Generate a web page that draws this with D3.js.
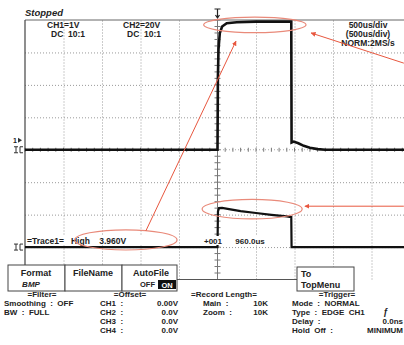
<!DOCTYPE html>
<html>
<head>
<meta charset="utf-8">
<script src="https://d3js.org/d3.v7.min.js"></script>
<style>
  body { margin: 0; background: #fff; }
  svg text { font-family: "Liberation Sans", Arial, sans-serif; font-weight: bold; fill: #222; }
</style>
</head>
<body>
<svg id="chart" width="404" height="345"></svg>
<script>
// CH1 (1 V/div), time in us and volts
const ch1Time = [-2500, 0, 5, 13, 30, 60, 120, 250, 500, 700, 958, 962, 990, 1050, 1120, 1200, 1300, 1400, 2500];
const ch1Volt = [0, 0, 2.2, 3.1, 3.6, 3.8, 3.9, 3.93, 3.95, 3.95, 3.95, 0.22, 0.25, 0.2, 0.12, 0.06, 0.02, 0, 0];
// CH2 (20 V/div, ground 3 div below centre)
const ch2Time = [-2500, 0, 6, 20, 60, 150, 300, 500, 700, 900, 958, 962, 2500];
const ch2Volt = [0, 0, 22, 24, 24.2, 23.4, 22.2, 21, 19.9, 18.9, 18.5, 0, 0];

const xDivs = d3.range(-5, 6);     // 10 horizontal divisions
const yDivs = d3.range(-4, 5);     // 8 vertical divisions

const headerLeft = [["CH1=1V", "DC  10:1"], ["CH2=20V", "DC  10:1"]];
const headerRight = ["500us/div", "(500us/div)", "NORM:2MS/s"];
const filterRows = [["Smoothing  :  OFF"], ["BW  :  FULL"]];
const offsetRows = [["CH1  :", "0.00V"], ["CH2  :", "0.0V"], ["CH3  :", "0.0V"], ["CH4  :", "0.0V"]];
const recordRows = [["Main  :", "10K"], ["Zoom  :", "10K"]];
const triggerRows = [["Mode  :  NORMAL", ""], ["Type  :  EDGE  CH1", ""], ["Delay  :", "0.0ns"], ["Hold  Off  :", "MINIMUM"]];

const svg = d3.select("#chart");

// screen scales (divisions)
const x = d3.scaleLinear().domain([-5, 5]).range([25, 410]);
const y = d3.scaleLinear().domain([-4, 4]).range([279.5, 20]);
const t = d3.scaleLinear().domain([-2500, 2500]).range([25, 410]);
const ch1 = v => y(v / 1);
const ch2 = v => y(v / 20 - 3);

// grid
const grid = svg.append("g");
grid.append("g")
  .attr("transform", `translate(0,${y(-4)})`)
  .call(d3.axisTop(x).tickValues(xDivs.filter(d => d > -5 && d !== 0)).tickSize(y(-4) - y(4)).tickFormat(""))
  .call(g => g.select(".domain").remove())
  .call(g => g.selectAll("line").attr("stroke", "#999").attr("stroke-dasharray", "1,2"));
grid.append("g")
  .attr("transform", `translate(${x(-5)},0)`)
  .call(d3.axisRight(y).tickValues(yDivs.filter(d => d > -4 && d < 4 && d !== 0)).tickSize(x(5) - x(-5)).tickFormat(""))
  .call(g => g.select(".domain").remove())
  .call(g => g.selectAll("line").attr("stroke", "#999").attr("stroke-dasharray", "1,2"));

// centre crosshair with minor ticks
grid.append("line").attr("x1", x(0)).attr("x2", x(0)).attr("y1", y(4)).attr("y2", y(-4)).attr("stroke", "#777");
grid.append("line").attr("x1", x(-5)).attr("x2", x(5)).attr("y1", y(0)).attr("y2", y(0)).attr("stroke", "#aaa").attr("stroke-dasharray", "1,2");
grid.selectAll(".vt").data(d3.range(-4, 4.01, 0.2)).join("line")
  .attr("x1", x(0) - 3).attr("x2", x(0) + 3).attr("y1", d => y(d)).attr("y2", d => y(d))
  .attr("stroke", "#777");
grid.selectAll(".ht").data(d3.range(-5, 5.01, 0.2)).join("line")
  .attr("x1", d => x(d)).attr("x2", d => x(d)).attr("y1", y(0) - 2).attr("y2", y(0) + 2)
  .attr("stroke", "#777");

// frame
svg.append("line").attr("x1", x(-5)).attr("x2", 404).attr("y1", y(4)).attr("y2", y(4)).attr("stroke", "#666");
svg.append("line").attr("x1", x(-5)).attr("x2", x(-5)).attr("y1", y(4)).attr("y2", y(-4)).attr("stroke", "#444").attr("stroke-width", 1.2);
svg.append("line").attr("x1", x(-5)).attr("x2", 297).attr("y1", y(-4)).attr("y2", y(-4)).attr("stroke", "#555");

// traces
const line1 = d3.line().x((d, i) => t(ch1Time[i])).y(d => ch1(d));
const line2 = d3.line().x((d, i) => t(ch2Time[i])).y(d => ch2(d));
svg.append("path").attr("d", line1(ch1Volt)).attr("fill", "none").attr("stroke", "#111").attr("stroke-width", 2.6);
svg.append("path").attr("d", line2(ch2Volt)).attr("fill", "none").attr("stroke", "#111").attr("stroke-width", 2.2);

// trigger marker at top and channel markers at left
svg.append("path").attr("d", `M${x(0) - 3},9 h6 M${x(0)},9 v9 M${x(0) - 2},15 l2,3 l2,-3`).attr("stroke", "#222").attr("fill", "none").attr("stroke-width", 1.2);
svg.append("text").attr("x", 13).attr("y", y(0) - 7).attr("font-size", 7).text("1");
svg.append("path").attr("d", `M18,${y(0) - 12} l4,2.5 l-4,2.5z`).attr("fill", "#333");
[0, -3].forEach(v => {
  svg.append("path")
    .attr("d", `M14,${y(v) - 3} h4 M16,${y(v) - 3} v6 M14,${y(v) + 3} h4 M20,${y(v) - 3} v6 h3 M20,${y(v) - 3} h3`)
    .attr("stroke", "#333").attr("fill", "none").attr("stroke-width", 1);
});

// header
svg.append("text").attr("x", 25).attr("y", 16).attr("font-size", 9.5).attr("font-style", "italic").text("Stopped");
headerLeft.forEach((h, i) => {
  svg.append("text").attr("x", 47 + i * 76).attr("y", 28).attr("font-size", 8.5).text(h[0]);
  svg.append("text").attr("x", 51 + i * 76).attr("y", 37).attr("font-size", 8.5).attr("xml:space", "preserve").text(h[1]);
});
headerRight.forEach((h, i) => {
  svg.append("text").attr("x", 368).attr("y", 28 + i * 9).attr("font-size", 8.5).attr("text-anchor", "middle").text(h);
});

// cursor readouts
svg.append("rect").attr("x", 26).attr("y", 236).attr("width", 144).attr("height", 9).attr("fill", "#fff");
svg.append("text").attr("x", 27).attr("y", 244).attr("font-size", 8.5).attr("xml:space", "preserve").text("=Trace1=   High    3.960V");
svg.append("rect").attr("x", 203).attr("y", 236).attr("width", 80).attr("height", 9).attr("fill", "#fff");
svg.append("text").attr("x", 204).attr("y", 244).attr("font-size", 8).attr("xml:space", "preserve").text("+001      960.0us");

// annotations (red)
const red = "#e8573f";
svg.append("defs").append("marker").attr("id", "ah").attr("viewBox", "0 0 10 10")
  .attr("refX", 9).attr("refY", 5).attr("markerWidth", 5).attr("markerHeight", 5).attr("orient", "auto")
  .append("path").attr("d", "M0,0L10,5L0,10z").attr("fill", red);
const ellipses = [[0.97, 3.85, 1.33, 0.24], [0.9, -1.83, 1.3, 0.3], [-2.38, -2.78, 1.33, 0.31]];
svg.selectAll(".ell").data(ellipses).join("ellipse")
  .attr("cx", d => x(d[0])).attr("cy", d => y(d[1]))
  .attr("rx", d => x(d[2]) - x(0)).attr("ry", d => y(0) - y(d[3]))
  .attr("fill", "none").attr("stroke", "#e98a7a").attr("stroke-width", 1.1);
const arrows = [[-1.86, -2.5, 0.48, 3.35], [4.84, 2.67, 2.43, 3.6], [4.84, -1.74, 2.27, -1.74]];
svg.selectAll(".arr").data(arrows).join("line")
  .attr("x1", d => x(d[0])).attr("y1", d => y(d[1])).attr("x2", d => x(d[2])).attr("y2", d => y(d[3]))
  .attr("stroke", red).attr("stroke-width", 1).attr("marker-end", "url(#ah)");

// bottom panel
svg.append("rect").attr("x", 0).attr("y", 291).attr("width", 404).attr("height", 54).attr("fill", "#fff");
const btns = [[8, 57], [65, 57], [122, 55]];
btns.forEach(b => {
  svg.append("rect").attr("x", b[0]).attr("y", 265).attr("width", b[1]).attr("height", 26)
    .attr("fill", "#fff").attr("stroke", "#444");
});
svg.append("text").attr("x", 36).attr("y", 276).attr("font-size", 9).attr("text-anchor", "middle").text("Format");
svg.append("text").attr("x", 31).attr("y", 287).attr("font-size", 8).attr("font-style", "italic").attr("text-anchor", "middle").text("BMP");
svg.append("text").attr("x", 93).attr("y", 276).attr("font-size", 9).attr("text-anchor", "middle").text("FileName");
svg.append("text").attr("x", 151).attr("y", 276).attr("font-size", 9).attr("text-anchor", "middle").text("AutoFile");
svg.append("text").attr("x", 140).attr("y", 287).attr("font-size", 7.5).text("OFF");
svg.append("rect").attr("x", 158).attr("y", 280).attr("width", 18).attr("height", 9).attr("fill", "#111");
svg.append("text").attr("x", 167).attr("y", 288).attr("font-size", 7.5).attr("text-anchor", "middle").style("fill", "#fff").text("ON");
svg.append("rect").attr("x", 297).attr("y", 267).attr("width", 57).attr("height", 24).attr("fill", "#fff").attr("stroke", "#444");
svg.append("text").attr("x", 301).attr("y", 277).attr("font-size", 9).text("To");
svg.append("text").attr("x", 301).attr("y", 288).attr("font-size", 9).text("TopMenu");

const fs = 8;
svg.append("text").attr("x", 42).attr("y", 297).attr("font-size", fs).attr("text-anchor", "middle").text("=Filter=");
filterRows.forEach((r, i) => svg.append("text").attr("x", 4).attr("y", 306 + i * 9).attr("font-size", fs).attr("xml:space", "preserve").text(r[0]));
svg.append("text").attr("x", 130).attr("y", 297).attr("font-size", fs).attr("text-anchor", "middle").text("=Offset=");
offsetRows.forEach((r, i) => {
  svg.append("text").attr("x", 100).attr("y", 306 + i * 9).attr("font-size", fs).attr("xml:space", "preserve").text(r[0]);
  svg.append("text").attr("x", 178).attr("y", 306 + i * 9).attr("font-size", fs).attr("text-anchor", "end").text(r[1]);
});
svg.append("text").attr("x", 224).attr("y", 297).attr("font-size", fs).attr("text-anchor", "middle").text("=Record Length=");
recordRows.forEach((r, i) => {
  svg.append("text").attr("x", 203).attr("y", 306 + i * 9).attr("font-size", fs).attr("xml:space", "preserve").text(r[0]);
  svg.append("text").attr("x", 268).attr("y", 306 + i * 9).attr("font-size", fs).attr("text-anchor", "end").text(r[1]);
});
svg.append("text").attr("x", 337).attr("y", 297).attr("font-size", fs).attr("text-anchor", "middle").text("=Trigger=");
triggerRows.forEach((r, i) => {
  svg.append("text").attr("x", 292).attr("y", 306 + i * 9).attr("font-size", fs).attr("xml:space", "preserve").text(r[0]);
  svg.append("text").attr("x", 403).attr("y", 306 + i * 9).attr("font-size", fs).attr("text-anchor", "end").text(r[1]);
});
svg.append("text").attr("x", 383).attr("y", 315).attr("font-size", 9).attr("font-style", "italic").text("ƒ");
</script>
</body>
</html>
